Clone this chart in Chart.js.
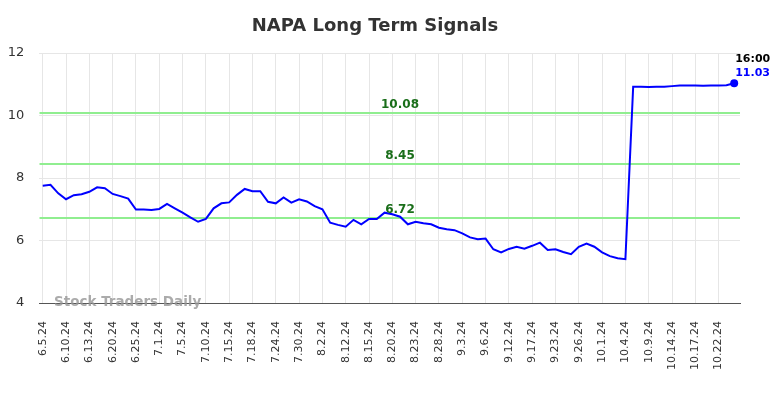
<!DOCTYPE html>
<html>
<head>
<meta charset="utf-8">
<script src="https://cdn.jsdelivr.net/npm/chart.js@4.4.0/dist/chart.umd.min.js"></script>
<style>
  html, body { margin: 0; padding: 0; background: #fff; }
  #wrap { width: 784px; height: 398px; }
</style>
</head>
<body>
<div id="wrap"><canvas id="signalChart" width="784" height="398"></canvas></div>
<script>
// trading days on the x axis (every third one is labelled)
const dates = [
  '6.5.24', '6.6.24', '6.7.24', '6.10.24', '6.11.24', '6.12.24',
  '6.13.24', '6.14.24', '6.18.24', '6.20.24', '6.21.24', '6.24.24',
  '6.25.24', '6.26.24', '6.28.24', '7.1.24', '7.2.24', '7.3.24',
  '7.5.24', '7.8.24', '7.9.24', '7.10.24', '7.11.24', '7.12.24',
  '7.15.24', '7.16.24', '7.17.24', '7.18.24', '7.22.24', '7.23.24',
  '7.24.24', '7.26.24', '7.29.24', '7.30.24', '7.31.24', '8.1.24',
  '8.2.24', '8.7.24', '8.9.24', '8.12.24', '8.13.24', '8.14.24',
  '8.15.24', '8.16.24', '8.19.24', '8.20.24', '8.21.24', '8.22.24',
  '8.23.24', '8.26.24', '8.27.24', '8.28.24', '8.29.24', '8.30.24',
  '9.3.24', '9.4.24', '9.5.24', '9.6.24', '9.10.24', '9.11.24',
  '9.12.24', '9.13.24', '9.16.24', '9.17.24', '9.19.24', '9.20.24',
  '9.23.24', '9.24.24', '9.25.24', '9.26.24', '9.27.24', '9.30.24',
  '10.1.24', '10.2.24', '10.3.24', '10.4.24', '10.7.24', '10.8.24',
  '10.9.24', '10.10.24', '10.11.24', '10.14.24', '10.15.24', '10.16.24',
  '10.17.24', '10.18.24', '10.21.24', '10.22.24', '10.23.24', '10.24.24'
];

// price series
const prices = [
  7.75, 7.78, 7.51, 7.32, 7.45, 7.48, 7.56, 7.70, 7.67, 7.49,
  7.42, 7.34, 6.99, 6.99, 6.98, 7.01, 7.17, 7.03, 6.89, 6.74,
  6.60, 6.69, 7.03, 7.19, 7.22, 7.46, 7.65, 7.58, 7.58, 7.24,
  7.19, 7.38, 7.21, 7.32, 7.25, 7.10, 7.00, 6.57, 6.50, 6.44,
  6.66, 6.52, 6.69, 6.69, 6.89, 6.84, 6.76, 6.52, 6.60, 6.55,
  6.52, 6.41, 6.36, 6.33, 6.23, 6.10, 6.04, 6.06, 5.72, 5.62,
  5.73, 5.80, 5.74, 5.83, 5.93, 5.70, 5.72, 5.63, 5.56, 5.80,
  5.90, 5.80, 5.62, 5.50, 5.43, 5.40, 10.92, 10.92, 10.91, 10.92,
  10.92, 10.94, 10.96, 10.96, 10.96, 10.95, 10.96, 10.96, 10.97, 11.03
];

// long term signal levels
const signalLevels = [10.08, 8.45, 6.72];

const yTicks = [4, 6, 8, 10, 12];
const lastTime = '16:00';

const xMin = -0.44;
const xMax = dates.length - 1 + 0.75;

const priceData = prices.map((v, i) => ({ x: i, y: v }));

const levelSets = signalLevels.map(lv => ({
  data: [{ x: xMin, y: lv }, { x: xMax, y: lv }],
  borderColor: '#90ee90',
  borderWidth: 2,
  pointRadius: 0,
  fill: false
}));

// title, watermark, level labels and the last price note
const extrasPlugin = {
  id: 'extras',
  afterDatasetsDraw(chart) {
    const c = chart.ctx;
    const xs = chart.scales.x;
    const ys = chart.scales.y;
    c.save();

    c.font = 'bold 18px "DejaVu Sans"';
    c.fillStyle = '#333333';
    c.textAlign = 'center';
    c.textBaseline = 'middle';
    c.fillText('NAPA Long Term Signals', 375, 26);

    c.font = 'bold 13.5px "DejaVu Sans"';
    c.fillStyle = 'rgba(150,150,150,0.8)';
    c.textAlign = 'left';
    c.fillText('Stock Traders Daily', 54, 302);

    c.font = 'bold 12px "DejaVu Sans"';
    c.fillStyle = '#1a6e1a';
    c.textAlign = 'center';
    signalLevels.forEach(lv => {
      c.fillText(lv.toFixed(2), 400, ys.getPixelForValue(lv) - 8);
    });

    const last = prices.length - 1;
    const lx = xs.getPixelForValue(last) + 1;
    const ly = ys.getPixelForValue(prices[last]);
    c.font = 'bold 11px "DejaVu Sans"';
    c.textAlign = 'left';
    c.fillStyle = '#000000';
    c.fillText(lastTime, lx, ly - 24);
    c.fillStyle = '#0000ff';
    c.fillText(prices[last].toFixed(2), lx, ly - 10);
    c.restore();
  }
};

const ctx = document.getElementById('signalChart').getContext('2d');
const signalChart = new Chart(ctx, {
  type: 'line',
  data: {
    datasets: [{
      data: priceData,
      borderColor: '#0000ff',
      borderWidth: 2,
      pointRadius: prices.map((v, i) => i === prices.length - 1 ? 4 : 0),
      pointBackgroundColor: '#0000ff',
      pointBorderWidth: 0,
      tension: 0,
      fill: false
    }].concat(levelSets)
  },
  options: {
    responsive: false,
    animation: false,
    layout: { padding: { top: 53, right: 44, left: 0, bottom: 0 } },
    plugins: {
      legend: { display: false },
      title: { display: false },
      tooltip: { enabled: false }
    },
    scales: {
      x: {
        type: 'linear',
        min: xMin,
        max: xMax,
        afterBuildTicks: function(scale) {
          scale.ticks = dates.map((d, i) => i).filter(i => i % 3 === 0).map(i => ({ value: i }));
        },
        afterFit: function(scale) { scale.height = 95; },
        ticks: {
          autoSkip: false,
          minRotation: 90,
          maxRotation: 90,
          padding: 18,
          color: '#333333',
          font: { family: 'DejaVu Sans', size: 11 },
          callback: function(value) { return dates[value]; }
        },
        grid: { color: '#e6e6e6', drawTicks: false },
        border: { color: '#555555', width: 1 }
      },
      y: {
        min: 4,
        max: 12,
        afterBuildTicks: function(scale) {
          scale.ticks = yTicks.map(v => ({ value: v }));
        },
        afterFit: function(scale) { scale.width = 39.3; },
        ticks: {
          padding: 15,
          color: '#333333',
          font: { family: 'DejaVu Sans', size: 13 }
        },
        grid: { color: '#e6e6e6', drawTicks: false },
        border: { display: false }
      }
    }
  },
  plugins: [extrasPlugin]
});
</script>
</body>
</html>
